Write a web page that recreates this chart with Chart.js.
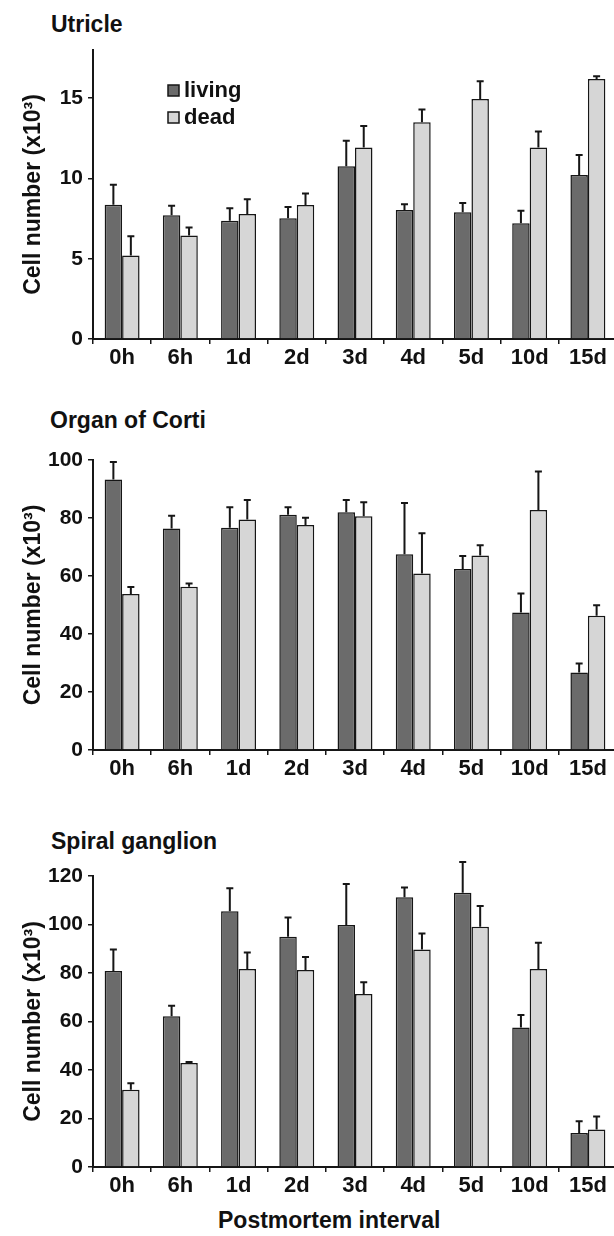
<!DOCTYPE html>
<html><head><meta charset="utf-8">
<script src="https://cdn.jsdelivr.net/npm/chart.js@4.4.1/dist/chart.umd.min.js"></script>
<style>
html,body{margin:0;padding:0;background:#fff;width:614px;height:1236px;overflow:hidden;position:relative;}
canvas{position:absolute;left:0;}
.t{position:absolute;font:bold 23px "Liberation Sans",Arial,sans-serif;line-height:22px;color:#111;white-space:nowrap;}
</style></head><body>
<div class="t" style="left:51px;top:13px">Utricle</div>
<div class="t" style="left:50px;top:409px">Organ of Corti</div>
<div class="t" style="left:51px;top:830px">Spiral ganglion</div>
<div class="t" style="left:218px;top:1209px">Postmortem interval</div>
<canvas id="c1" width="617" height="380" style="top:0px"></canvas>
<canvas id="c2" width="617" height="351" style="top:440px"></canvas>
<canvas id="c3" width="617" height="381" style="top:855px"></canvas>
<script>
const categories = ['0h','6h','1d','2d','3d','4d','5d','10d','15d'];
const seriesNames = ['living','dead'];
const yAxisTitle = 'Cell number (x10³)';

// Utricle
const utricleLiving    = [8.36, 7.70, 7.37, 7.52, 10.76, 8.03, 7.89, 7.21, 10.22];
const utricleLivingErr = [1.24, 0.60, 0.77, 0.70, 1.59, 0.37, 0.58, 0.78, 1.24];
const utricleDead      = [5.20, 6.45, 7.79, 8.34, 11.92, 13.50, 14.95, 11.92, 16.19];
const utricleDeadErr   = [1.20, 0.50, 0.91, 0.73, 1.34, 0.79, 1.10, 1.01, 0.17];
const utricleTicks     = [0, 5, 10, 15];

// Organ of Corti
const cortiLiving    = [93.3, 76.4, 76.6, 81.1, 82.0, 67.5, 62.4, 47.4, 26.7];
const cortiLivingErr = [6.0, 4.4, 7.1, 2.6, 4.2, 17.7, 4.5, 6.6, 3.1];
const cortiDead      = [53.8, 56.3, 79.5, 77.6, 80.6, 60.9, 67.1, 82.8, 46.3];
const cortiDeadErr   = [2.4, 1.1, 6.7, 2.5, 4.8, 13.8, 3.5, 13.2, 3.6];
const cortiTicks     = [0, 20, 40, 60, 80, 100];

// Spiral ganglion
const spiralLiving    = [80.8, 62.2, 105.5, 94.9, 99.8, 111.2, 113.1, 57.5, 14.0];
const spiralLivingErr = [8.9, 4.3, 9.5, 8.0, 16.9, 4.1, 12.7, 5.2, 4.9];
const spiralDead      = [31.9, 42.9, 81.6, 81.2, 71.3, 89.7, 99.1, 81.6, 15.5];
const spiralDeadErr   = [2.6, 0.4, 6.9, 5.4, 4.9, 6.6, 8.5, 10.9, 5.3];
const spiralTicks     = [0, 20, 40, 60, 80, 100, 120];

Chart.defaults.font.family = "'Liberation Sans', Arial, sans-serif";
Chart.defaults.font.weight = 'bold';
Chart.defaults.color = '#111';

const LIVING = '#6b6b6b', DEAD = '#d6d6d6', INK = '#161616';

const errorBars = {
  id: 'errorBars',
  afterDatasetsDraw(chart, args, opts) {
    const ctx = chart.ctx, ys = chart.scales.y;
    ctx.save();
    ctx.strokeStyle = INK; ctx.lineWidth = 2;
    chart.data.datasets.forEach((ds, di) => {
      const meta = chart.getDatasetMeta(di);
      meta.data.forEach((el, i) => {
        const top = ys.getPixelForValue(ds.data[i] + ds.errors[i]);
        ctx.beginPath();
        ctx.moveTo(el.x, el.y); ctx.lineTo(el.x, top);
        ctx.moveTo(el.x - 3.5, top); ctx.lineTo(el.x + 3.5, top);
        ctx.stroke();
      });
    });
    ctx.restore();
  }
};

const insideLegend = {
  id: 'insideLegend',
  afterDraw(chart, args, opts) {
    if (!opts || !opts.show) return;
    const ctx = chart.ctx, a = chart.chartArea;
    ctx.save();
    ctx.font = "bold 22px 'Liberation Sans', Arial, sans-serif";
    ctx.textBaseline = 'middle';
    chart.data.datasets.forEach((ds, i) => {
      const sx = a.left + 75, sy = a.top + 35 + i * 27;
      ctx.fillStyle = ds.backgroundColor;
      ctx.fillRect(sx, sy, 11, 11);
      ctx.strokeStyle = INK; ctx.lineWidth = 1.5;
      ctx.strokeRect(sx, sy, 11, 11);
      ctx.fillStyle = '#111';
      ctx.fillText(ds.label, sx + 16, sy + 5.5);
    });
    ctx.restore();
  }
};

function makePanel(id, living, livingErr, dead, deadErr, ticks, padTop, xHeight, legend) {
  const yMax = id === 'c1' ? 18 : ticks[ticks.length - 1];
  new Chart(document.getElementById(id), {
    type: 'bar',
    data: {
      labels: categories,
      datasets: [
        {label: seriesNames[0], data: living, errors: livingErr, backgroundColor: LIVING,
         borderColor: INK, borderWidth: 1.5, categoryPercentage: 0.6, barPercentage: 1.0},
        {label: seriesNames[1], data: dead, errors: deadErr, backgroundColor: DEAD,
         borderColor: INK, borderWidth: 1.5, categoryPercentage: 0.6, barPercentage: 1.0}
      ]
    },
    options: {
      responsive: false, animation: false, devicePixelRatio: 1,
      layout: {padding: {top: padTop, left: 0, right: 0, bottom: 0}},
      plugins: {legend: {display: false}, tooltip: {enabled: false}, insideLegend: {show: legend}},
      scales: {
        x: {
          grid: {display: true, drawOnChartArea: false, drawTicks: true, tickLength: 5, color: INK, lineWidth: 1.5},
          border: {display: true, color: INK, width: 2},
          ticks: {font: {size: 22, weight: 'bold'}, color: '#111', padding: 1, maxRotation: 0, autoSkip: false},
          afterFit: s => { s.height = xHeight; }
        },
        y: {
          min: 0, max: yMax,
          grid: {display: true, drawOnChartArea: false, drawTicks: true, tickLength: 5, color: INK, lineWidth: 1.5},
          border: {display: true, color: INK, width: 2},
          ticks: {font: {size: 21, weight: 'bold'}, color: '#111', padding: 5, includeBounds: false,
                  stepSize: ticks[1] - ticks[0]},
          afterBuildTicks: s => { s.ticks = ticks.map(v => ({value: v})); },
          title: {display: true, text: yAxisTitle, font: {size: 23, weight: 'bold'}, color: '#111',
                  padding: {top: 20, bottom: 0}},
          afterFit: s => { s.width = 93; }
        }
      }
    },
    plugins: [errorBars, insideLegend]
  });
}

makePanel('c1', utricleLiving, utricleLivingErr, utricleDead, utricleDeadErr, utricleTicks, 50, 41, true);
makePanel('c2', cortiLiving, cortiLivingErr, cortiDead, cortiDeadErr, cortiTicks, 20, 41, false);
makePanel('c3', spiralLiving, spiralLivingErr, spiralDead, spiralDeadErr, spiralTicks, 21, 69, false);
</script>
</body></html>
